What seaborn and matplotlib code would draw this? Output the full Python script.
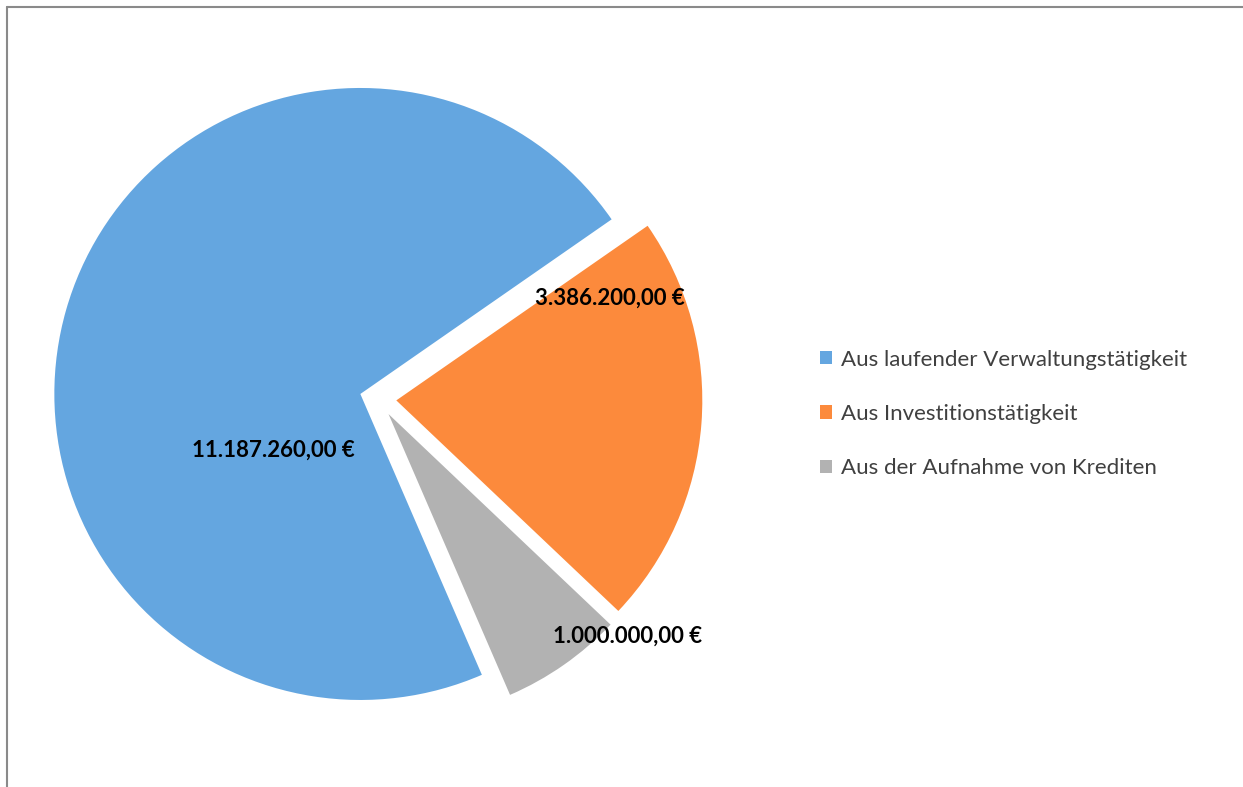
import matplotlib
matplotlib.use("Agg")
import matplotlib.pyplot as plt
from matplotlib.lines import Line2D
import seaborn as sns

categories = ["Aus laufender Verwaltungstätigkeit", "Aus Investitionstätigkeit", "Aus der Aufnahme von Krediten"]
values = [11187260.00, 3386200.00, 1000000.00]
value_labels = ["11.187.260,00 €", "3.386.200,00 €", "1.000.000,00 €"]
colors = ["#64A6E0", "#FC8A3C", "#B2B2B2"]

sns.set_theme(style="white")
plt.rcParams['font.family'] = ['Lato', 'DejaVu Sans']

W, H = 1243, 787
fig = plt.figure(figsize=(W / 100, H / 100), dpi=100)
fig.patch.set_facecolor("white")

# pie geometry in pixels
cx, cy, R = 378, 399, 306
half = 340
ax = fig.add_axes([(cx - half) / W, (H - (cy + half)) / H, 2 * half / W, 2 * half / H])
lim = half / R

wedges, _ = ax.pie(values, colors=colors, startangle=-66.6, counterclock=False,
                   explode=[0.06, 0.06, 0.06], radius=1.0,
                   wedgeprops=dict(linewidth=0))
ax.set_xlim(-lim, lim)
ax.set_ylim(-lim, lim)
ax.set_aspect("equal")
ax.axis("off")

label_xy = [(-0.343, -0.167), (0.758, 0.330), (0.817, -0.775)]
for (x, y), t in zip(label_xy, value_labels):
    ax.text(x, y, t, ha="center", va="center", fontsize=16, fontweight="bold", color="black")

leg = fig.legend(wedges, categories, loc="center left", bbox_to_anchor=(820 / W, 1 - 414 / H),
                 frameon=False, fontsize=16, handlelength=0.55, handleheight=0.55,
                 handletextpad=0.4, labelspacing=1.55, borderaxespad=0, borderpad=0)
for t in leg.get_texts():
    t.set_color("#404040")

fig.add_artist(Line2D([7 / W, 7 / W], [0, 1 - 7 / H], transform=fig.transFigure,
                      color="#8a8a8a", linewidth=1.5))
fig.add_artist(Line2D([7 / W, 1], [1 - 7 / H, 1 - 7 / H], transform=fig.transFigure,
                      color="#8a8a8a", linewidth=1.5))

fig.savefig("out.png", dpi=100, facecolor="white")
